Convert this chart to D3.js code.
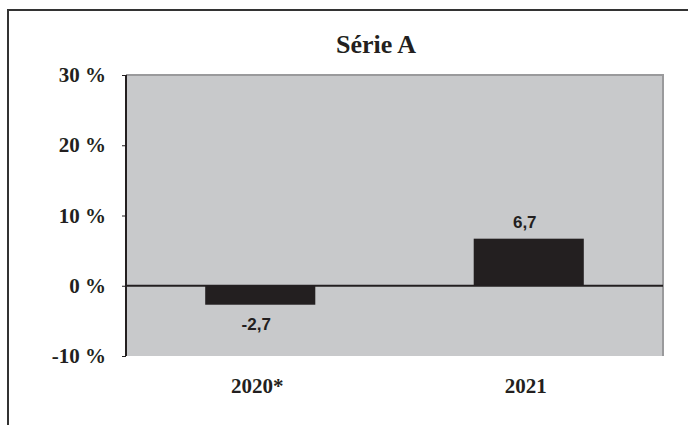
<!DOCTYPE html>
<html>
<head>
<meta charset="utf-8">
<script src="https://cdn.jsdelivr.net/npm/d3@7"></script>
<style>
  body { margin: 0; background: #fff; }
  svg { display: block; }
</style>
</head>
<body>
<div id="chart"></div>
<script>
(function () {
    // chart data
    var categories = ["2020*", "2021"];
    var values = [-2.7, 6.7];
    var valueLabels = ["-2,7", "6,7"];
    var tickValues = [-10, 0, 10, 20, 30];
    var title = "Série A";

    var width = 688, height = 425;
    var margin = {top: 75, right: 25, bottom: 69, left: 126};

    var svg = d3.select("#chart").append("svg")
        .attr("width", width)
        .attr("height", height);

    // outer frame (top and left edges visible)
    svg.append("path")
        .attr("d", "M8,425V10H688")
        .attr("fill", "none")
        .attr("stroke", "#333")
        .attr("stroke-width", 2);

    var x = d3.scaleBand()
        .domain(categories)
        .range([margin.left, width - margin.right])
        .paddingInner(0.59)
        .paddingOuter(0.295);

    var y = d3.scaleLinear()
        .domain([-10, 30])
        .range([height - margin.bottom, margin.top]);

    // plot background
    svg.append("rect")
        .attr("x", margin.left)
        .attr("y", y(30))
        .attr("width", width - margin.right - margin.left)
        .attr("height", y(-10) - y(30))
        .attr("fill", "#c8c9cb");

    // gray top/right border of plot area
    svg.append("path")
        .attr("d", "M" + margin.left + "," + y(30) + "H" + (width - margin.right) + "V" + y(-10))
        .attr("fill", "none")
        .attr("stroke", "#9a9a9c")
        .attr("stroke-width", 2);

    // bars
    svg.selectAll(".bar")
        .data(values)
        .enter().append("rect")
        .attr("class", "bar")
        .attr("x", function (d, i) { return x(categories[i]); })
        .attr("width", x.bandwidth())
        .attr("y", function (d) { return y(Math.max(0, d)); })
        .attr("height", function (d) { return Math.abs(y(d) - y(0)); })
        .attr("fill", "#231f20");

    // zero line
    svg.append("line")
        .attr("x1", margin.left)
        .attr("x2", width - margin.right)
        .attr("y1", y(0))
        .attr("y2", y(0))
        .attr("stroke", "#231f20")
        .attr("stroke-width", 2);

    // y axis
    var yAxis = d3.axisLeft(y)
        .tickValues(tickValues)
        .tickSize(4)
        .tickPadding(16)
        .tickFormat(function (d) { return d + " %"; });

    var gy = svg.append("g")
        .attr("transform", "translate(" + margin.left + ",0)")
        .call(yAxis);
    gy.select(".domain").attr("stroke", "#231f20").attr("stroke-width", 2)
        .attr("d", "M0," + y(30) + "V" + y(-10));
    gy.selectAll(".tick line").attr("stroke", "#231f20");
    gy.selectAll(".tick text")
        .attr("fill", "#231f20")
        .style("font-family", "'Liberation Serif', 'Times New Roman', serif")
        .style("font-weight", "bold")
        .style("font-size", "21px");

    // category labels
    svg.selectAll(".cat")
        .data(categories)
        .enter().append("text")
        .attr("class", "cat")
        .attr("x", function (d) { return x(d) + x.bandwidth() / 2 - 3; })
        .attr("y", y(-10) + 37)
        .attr("text-anchor", "middle")
        .attr("fill", "#231f20")
        .style("font-family", "'Liberation Serif', 'Times New Roman', serif")
        .style("font-weight", "bold")
        .style("font-size", "21px")
        .text(function (d) { return d; });

    // value labels
    svg.selectAll(".val")
        .data(values)
        .enter().append("text")
        .attr("class", "val")
        .attr("x", function (d, i) { return x(categories[i]) + x.bandwidth() / 2 - 4; })
        .attr("y", function (d) { return d < 0 ? y(d) + 25 : y(d) - 11; })
        .attr("text-anchor", "middle")
        .attr("fill", "#231f20")
        .style("font-family", "'Liberation Sans', Arial, sans-serif")
        .style("font-weight", "bold")
        .style("font-size", "17px")
        .text(function (d, i) { return valueLabels[i]; });

    // title
    svg.append("text")
        .attr("x", 376)
        .attr("y", 53)
        .attr("text-anchor", "middle")
        .attr("fill", "#231f20")
        .style("font-family", "'Liberation Serif', 'Times New Roman', serif")
        .style("font-weight", "bold")
        .style("font-size", "26px")
        .text(title);
})();
</script>
</body>
</html>
